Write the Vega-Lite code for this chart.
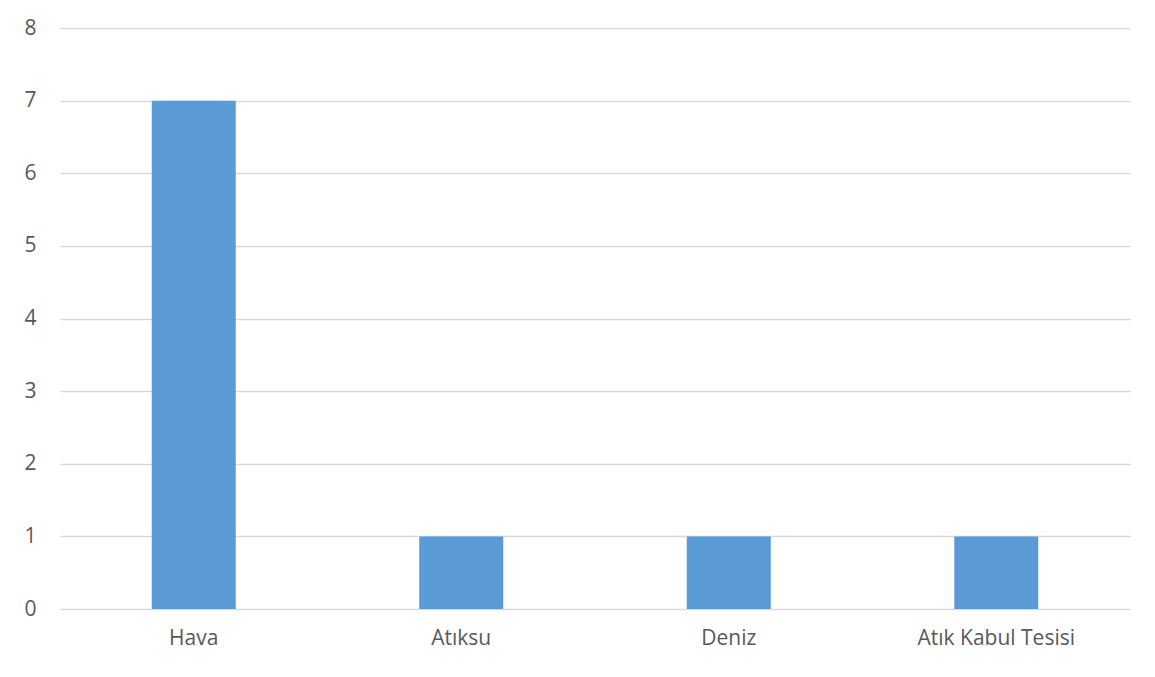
{
  "$schema": "https://vega.github.io/schema/vega-lite/v6.json",
  "width": 1070,
  "height": 581,
  "autosize": "none",
  "padding": {"left": 60, "top": 28, "right": 25, "bottom": 68},
  "background": "white",
  "config": {"view": {"stroke": null}},
  "data": {"values": [
    {"kategori": "Hava", "deger": 7},
    {"kategori": "Atıksu", "deger": 1},
    {"kategori": "Deniz", "deger": 1},
    {"kategori": "Atık Kabul Tesisi", "deger": 1}
  ]},
  "mark": {"type": "bar", "color": "#5b9bd5"},
  "encoding": {
    "x": {
      "field": "kategori", "type": "nominal", "sort": null,
      "scale": {"paddingInner": 0.686, "paddingOuter": 0.343},
      "axis": {"title": null, "labelAngle": 0, "domain": false, "ticks": false,
        "labelFont": "Open Sans", "labelFontSize": 21, "labelColor": "#595959", "labelPadding": 18}
    },
    "y": {
      "field": "deger", "type": "quantitative",
      "scale": {"domain": [0, 8], "nice": false},
      "axis": {"title": null, "values": [0,1,2,3,4,5,6,7,8], "domain": false, "ticks": false,
        "grid": true, "gridColor": "#d9d9d9", "gridWidth": 1.5,
        "labelFont": "Open Sans", "labelFontSize": 21, "labelColor": "#595959", "labelPadding": 24}
    }
  }
}
